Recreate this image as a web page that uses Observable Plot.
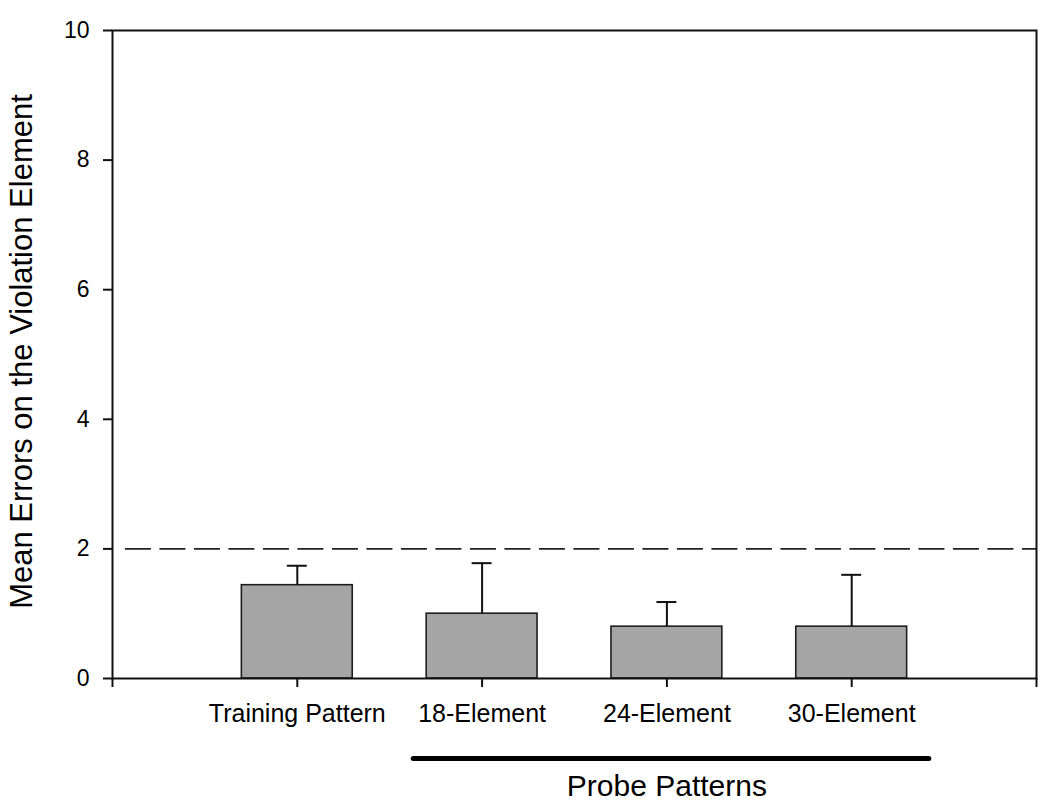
<!DOCTYPE html>
<html>
<head>
<meta charset="utf-8">
<script src="https://cdn.jsdelivr.net/npm/d3@7"></script>
<script src="https://cdn.jsdelivr.net/npm/@observablehq/plot@0.6"></script>
<style>
  html, body { margin: 0; padding: 0; background: #fff; }
  #chart { width: 1050px; height: 810px; }
</style>
</head>
<body>
<div id="chart"></div>
<script>
// ---- data ----
const categories = ["Training Pattern", "18-Element", "24-Element", "30-Element"];
const positions = [1, 2, 3, 4];
const means = [1.44, 1.0, 0.8, 0.8];
const upper = [1.74, 1.78, 1.18, 1.60];
const chanceLevel = 2;
const yTicks = [0, 2, 4, 6, 8, 10];
const xTicks = [0, 1, 2, 3, 4, 5];
const yTitle = "Mean Errors on the Violation Element";
const groupLabel = "Probe Patterns";
const groupSpan = [1.63, 4.42];
const groupCenter = 3;

const rows = categories.map((c, i) => ({cat: c, x: positions[i], mean: means[i], hi: upper[i]}));

const barHalf = 0.3;
const capHalf = 0.054;
const font = "'Liberation Sans', Arial, Helvetica, sans-serif";

const chart = Plot.plot({
  width: 1050,
  height: 810,
  marginLeft: 112,
  marginRight: 14,
  marginTop: 30,
  marginBottom: 132,
  style: {fontFamily: font, background: "#fff", color: "#000", overflow: "visible"},
  x: {domain: [0, 5], axis: null},
  y: {domain: [0, 10], axis: null},
  marks: [
    // dashed reference line
    Plot.ruleY([chanceLevel], {x1: 0.07, x2: 5, stroke: "#222", strokeWidth: 1.6, strokeDasharray: "26,8.5"}),
    // bars
    Plot.rectY(rows, {x1: d => d.x - barHalf, x2: d => d.x + barHalf, y1: 0, y2: "mean", fill: "#a5a5a5", stroke: "#1e1e1e", strokeWidth: 1.6}),
    // error bars (upper only)
    Plot.ruleX(rows, {x: "x", y1: "mean", y2: "hi", stroke: "#111", strokeWidth: 2}),
    Plot.ruleY(rows, {y: "hi", x1: d => d.x - capHalf, x2: d => d.x + capHalf, stroke: "#111", strokeWidth: 2}),
    // frame
    Plot.frame({stroke: "#111", strokeWidth: 2}),
    // axes
    Plot.axisY({ticks: yTicks, tickSize: 9, tickPadding: 14, fontSize: 23, label: null, tickFormat: d => String(d), strokeWidth: 2, stroke: "#111"}),
    Plot.axisX({ticks: xTicks, tickSize: 9, tickPadding: 17, fontSize: 25, label: null, tickFormat: d => categories[positions.indexOf(d)] ?? "", strokeWidth: 2, stroke: "#111"}),
    // y title
    Plot.text([yTitle], {frameAnchor: "left", textAnchor: "middle", rotate: -90, dx: -90, dy: -3, fontSize: 31, fill: "#000"}),
    // probe patterns bracket
    Plot.ruleY([0], {x1: groupSpan[0], x2: groupSpan[1], dy: 80, stroke: "#000", strokeWidth: 5, strokeLinecap: "round"}),
    Plot.text([groupLabel], {x: groupCenter, frameAnchor: "bottom", dy: 117, fontSize: 30, fill: "#000"})
  ]
});
document.getElementById("chart").appendChild(chart);
</script>
</body>
</html>
